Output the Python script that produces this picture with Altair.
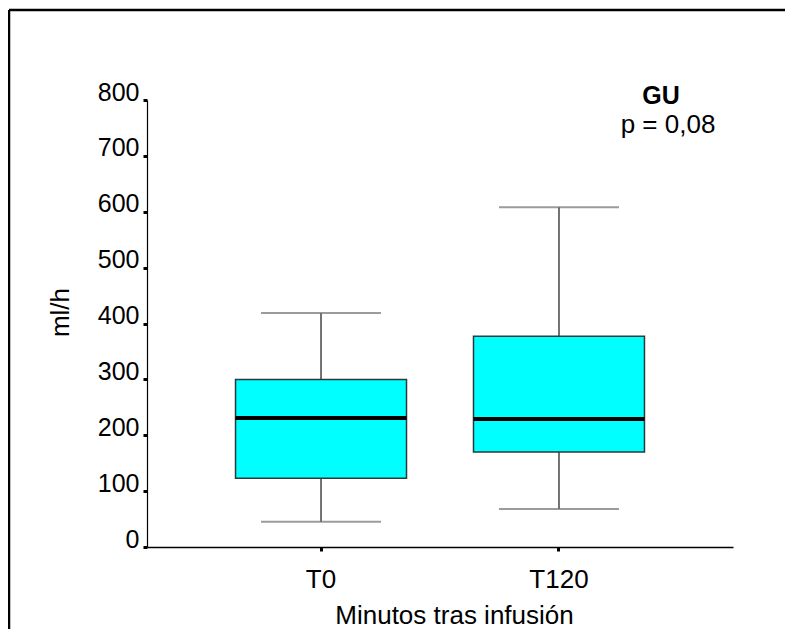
import altair as alt
import pandas as pd

# --- data ---
categories = ["T0", "T120"]
whisker_low = [45, 68]
q1 = [123, 170]
median = [231, 229]
q3 = [300, 377]
whisker_high = [419, 608]

y_ticks = [0, 100, 200, 300, 400, 500, 600, 700, 800]
annot_title = ["GU"]
annot_p = ["p = 0,08"]

df = pd.DataFrame({
    "cat": categories,
    "lo": whisker_low,
    "q1": q1,
    "med": median,
    "q3": q3,
    "hi": whisker_high,
})

FONT = "Liberation Sans"

xscale = alt.Scale(domain=categories, paddingInner=0.2815, paddingOuter=0.372)
yscale = alt.Scale(domain=[0, 800], nice=False)

xaxis = alt.Axis(
    title="Minutos tras infusión", labelFontSize=26, titleFontSize=26,
    labelFont=FONT, titleFont=FONT, titleFontWeight="normal",
    labelAngle=0, labelBaseline="alphabetic", labelPadding=36,
    tickSize=4, tickWidth=3, tickColor="black",
    domainColor="black", domainWidth=1.5,
    titleX=307, titleY=76, titleBaseline="alphabetic", titleAnchor="middle",
    labelColor="black", titleColor="black",
)
yaxis = alt.Axis(
    title="ml/h", values=y_ticks, labelFontSize=25, titleFontSize=26,
    labelFont=FONT, titleFont=FONT, titleFontWeight="normal",
    labelBaseline="alphabetic", labelPadding=4,
    tickSize=4, tickWidth=3, tickColor="black",
    domainColor="black", domainWidth=1.2, grid=False,
    titleX=-79, titleY=212, titleBaseline="alphabetic", titleAlign="center",
    titleAngle=270, labelColor="black", titleColor="black",
)

base = alt.Chart(df)

one = pd.DataFrame({"k": [0]})
frame_top = alt.Chart(one).mark_rule(color="black", strokeWidth=2.5).encode(
    x=alt.value(-138), x2=alt.value(700), y=alt.value(-90), y2=alt.value(-90)
)
frame_left = alt.Chart(one).mark_rule(color="black", strokeWidth=2.5).encode(
    x=alt.value(-138), x2=alt.value(-138), y=alt.value(-90), y2=alt.value(700)
)

whisk_low = base.mark_rule(color="#444", strokeWidth=1.5).encode(
    x=alt.X("cat:N", scale=xscale, axis=xaxis, sort=categories),
    y=alt.Y("lo:Q", scale=yscale, axis=yaxis),
    y2="q1:Q",
)
whisk_high = base.mark_rule(color="#444", strokeWidth=1.5).encode(
    x=alt.X("cat:N", scale=xscale, sort=categories),
    y=alt.Y("q3:Q", scale=yscale),
    y2="hi:Q",
)
cap_low = base.mark_tick(size=120, thickness=2, color="#707070", orient="horizontal").encode(
    x=alt.X("cat:N", scale=xscale, sort=categories),
    y=alt.Y("lo:Q", scale=yscale),
)
cap_high = base.mark_tick(size=120, thickness=2, color="#707070", orient="horizontal").encode(
    x=alt.X("cat:N", scale=xscale, sort=categories),
    y=alt.Y("hi:Q", scale=yscale),
)
box = base.mark_bar(fill="#00FFFF", stroke="#2a3a3a", strokeWidth=1.5).encode(
    x=alt.X("cat:N", scale=xscale, sort=categories),
    y=alt.Y("q1:Q", scale=yscale),
    y2="q3:Q",
)
med = base.mark_tick(size=171, thickness=4, color="black", orient="horizontal", opacity=1).encode(
    x=alt.X("cat:N", scale=xscale, sort=categories),
    y=alt.Y("med:Q", scale=yscale),
)

t_gu = alt.Chart(pd.DataFrame({"t": annot_title})).mark_text(
    font=FONT, fontSize=25, fontWeight="bold", align="center", baseline="alphabetic", color="black"
).encode(text="t:N", x=alt.value(514), y=alt.value(4))
t_p = alt.Chart(pd.DataFrame({"t": annot_p})).mark_text(
    font=FONT, fontSize=26, align="center", baseline="alphabetic", color="black"
).encode(text="t:N", x=alt.value(521), y=alt.value(33))

chart = alt.layer(frame_top, frame_left, whisk_low, whisk_high, cap_low, cap_high, box, med, t_gu, t_p).properties(
    width=586, height=447,
    background="white",
    autosize=alt.AutoSizeParams(type="none"),
    padding={"left": 139, "top": 92, "right": 52, "bottom": 82},
).configure_view(strokeWidth=0, stroke=None)

chart.save("out.html", embed_options={"renderer": "svg", "actions": False})
